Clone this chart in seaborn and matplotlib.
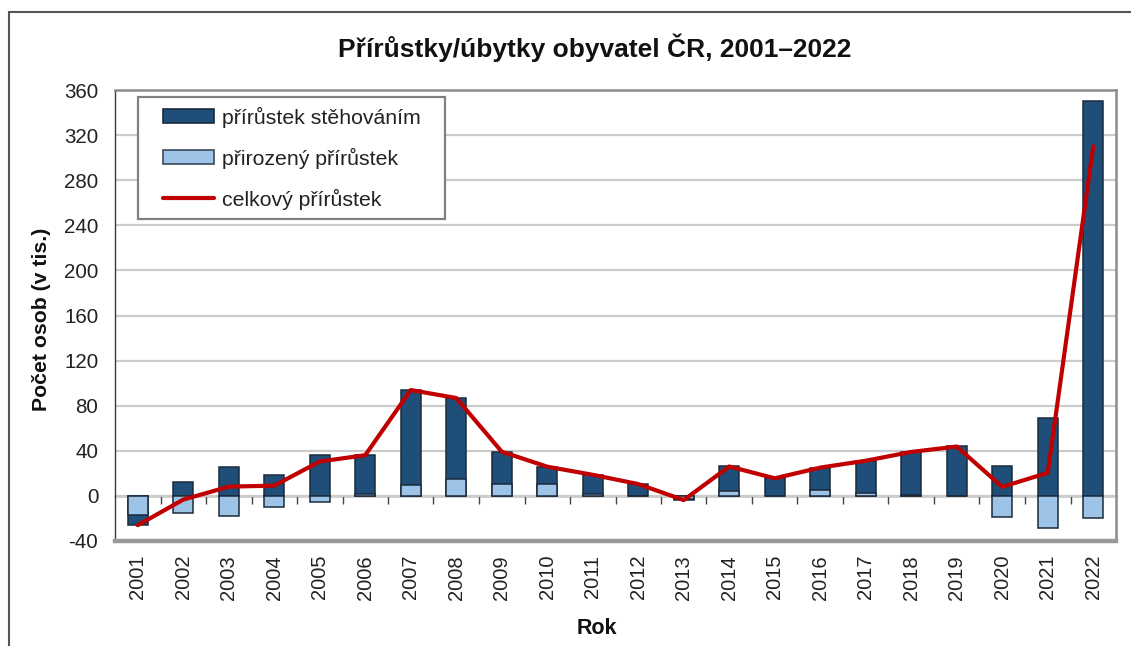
import numpy as np
import pandas as pd
import matplotlib
matplotlib.use('Agg')
import matplotlib.pyplot as plt
from matplotlib.patches import Patch, Rectangle
from matplotlib.lines import Line2D
from matplotlib.legend_handler import HandlerBase
import seaborn as sns

# values in thousands
years = [str(y) for y in range(2001, 2023)]
natural = [-17.0, -15.5, -17.6, -9.5, -5.7, 1.4, 10.0, 15.0, 10.9, 10.3, 1.8,
           0.2, -2.4, 4.4, -0.4, 5.0, 2.9, 0.4, -0.5, -18.9, -28.5, -20.0]
migration = [-8.6, 12.3, 25.8, 18.6, 36.2, 34.7, 83.9, 71.8, 28.3, 15.6, 16.9,
             10.3, -1.3, 21.7, 16.0, 20.1, 28.3, 38.6, 44.3, 26.9, 69.0, 350.0]
total = [-26.0, -3.3, 8.2, 9.1, 30.5, 36.1, 93.9, 86.8, 39.2, 25.9, 18.7,
         10.5, -3.7, 26.1, 15.6, 25.1, 31.2, 39.0, 43.8, 8.0, 20.5, 310.0]
yticks = list(range(-40, 361, 40))

df = pd.DataFrame({'rok': years, 'nat': natural, 'mig': migration, 'tot': total})
# stacked like Excel: natural first, migration stacked on it when the signs agree
same_sign = np.sign(df['nat']) == np.sign(df['mig'])
df['mig_top'] = df['mig'] + np.where(same_sign, df['nat'], 0)
df['pos'] = np.arange(len(df))

dark = '#1f4e79'
light = '#9dc3e6'
edge = '#1b2b3b'
red = '#c00000'

sns.set_style('white')
plt.rcParams['font.family'] = ['Liberation Sans', 'DejaVu Sans']
plt.rcParams['axes.unicode_minus'] = False


class ShiftedHandler(HandlerBase):
    # legend key drawn in the right part of the handle box (Excel-like indent)
    def create_artists(self, legend, orig, xd, yd, w, h, fs, trans):
        off = 0.235 * w
        if isinstance(orig, Line2D):
            art = Line2D([off - xd, w - xd], [h / 2 - yd] * 2,
                         color=orig.get_color(), linewidth=orig.get_linewidth())
        else:
            art = Rectangle((off - xd, -yd), w - off, h,
                            facecolor=orig.get_facecolor(),
                            edgecolor=orig.get_edgecolor(),
                            linewidth=orig.get_linewidth())
        art.set_transform(trans)
        return [art]


fig = plt.figure(figsize=(11.31, 6.46), dpi=100)
ax = fig.add_axes([115 / 1131, 1 - 541 / 646, 1001 / 1131, 451 / 646])

ax.set_axisbelow(True)
ax.grid(axis='y', color='#cbcbcb', linewidth=1.6)

sns.barplot(data=df, x='rok', y='mig_top', color=dark, saturation=1, width=0.44,
            edgecolor=edge, linewidth=1.1, ax=ax, zorder=2)
sns.barplot(data=df, x='rok', y='nat', color=light, saturation=1, width=0.44,
            edgecolor=edge, linewidth=1.1, ax=ax, zorder=3)
sns.lineplot(data=df, x='pos', y='tot', color=red, linewidth=3.0, ax=ax,
             zorder=5, sort=False)

ax.set_xlim(-0.5, len(years) - 0.5)
ax.set_ylim(-40, 360)
ax.set_yticks(yticks)
ax.set_xticks(np.arange(len(years)))
ax.set_xticklabels(years, rotation=90, fontsize=14.5, color='#222222')
ax.tick_params(axis='x', length=0, pad=10)
ax.tick_params(axis='y', labelsize=14.8, colors='#222222', length=6, width=1,
               direction='out', pad=6)
ax.set_xlabel('')
ax.set_ylabel('')

for s in ['top', 'right']:
    ax.spines[s].set_color('#8c8c8c')
    ax.spines[s].set_linewidth(1.8)
ax.spines['bottom'].set_color('#9a9a9a')
ax.spines['bottom'].set_linewidth(3.2)
ax.spines['left'].set_color('#3a3a3a')
ax.spines['left'].set_linewidth(1.0)

# category axis crossing at zero with ticks between the years
zero_ax = ax.secondary_xaxis(0, transform=ax.transData)
zero_ax.set_xticks(np.arange(len(years) - 1) + 0.5)
zero_ax.set_xticklabels([])
zero_ax.tick_params(axis='x', direction='out', length=6, width=1, colors='#444444')
zero_ax.spines['bottom'].set_color('#222222')
zero_ax.spines['bottom'].set_linewidth(1.0)

handles = [Patch(facecolor=dark, edgecolor=edge, linewidth=1.2),
           Patch(facecolor=light, edgecolor='#3a4a5a', linewidth=1.2),
           Line2D([0], [0], color=red, linewidth=3.0)]
labels = ['přírůstek stěhováním', 'přirozený přírůstek', 'celkový přírůstek']
leg = ax.legend(handles, labels, loc='upper left',
                bbox_to_anchor=(23 / 1001, (541 - 218) / 451, 307 / 1001, 121 / 451),
                mode='expand', borderaxespad=0, fontsize=15.3, frameon=True,
                fancybox=False, edgecolor='#808080', handlelength=3.13,
                handleheight=0.6, handletextpad=0.38, labelspacing=0.94,
                borderpad=0.45, framealpha=1,
                handler_map={Patch: ShiftedHandler(), Line2D: ShiftedHandler()})
leg.get_frame().set_linewidth(1.6)
for t in leg.get_texts():
    t.set_color('#222222')

fig.text(595 / 1131, 1 - 48 / 646, 'Přírůstky/úbytky obyvatel ČR, 2001–2022',
         ha='center', va='center', fontsize=19, fontweight='bold', color='#111111')
fig.text(42 / 1131, 1 - 319 / 646, 'Počet osob (v tis.)', rotation=90,
         ha='center', va='center', fontsize=15.3, fontweight='bold', color='#111111')
fig.text(597 / 1131, 1 - 628 / 646, 'Rok', ha='center', va='center',
         fontsize=15.5, fontweight='bold', color='#111111')

# outer chart frame (left and top edges visible)
fig.add_artist(Line2D([9 / 1131, 9 / 1131], [0, 1 - 12 / 646],
                      transform=fig.transFigure, color='#555555', linewidth=1.5))
fig.add_artist(Line2D([9 / 1131, 1], [1 - 12 / 646, 1 - 12 / 646],
                      transform=fig.transFigure, color='#555555', linewidth=1.5))

fig.savefig('out.png', dpi=100)
